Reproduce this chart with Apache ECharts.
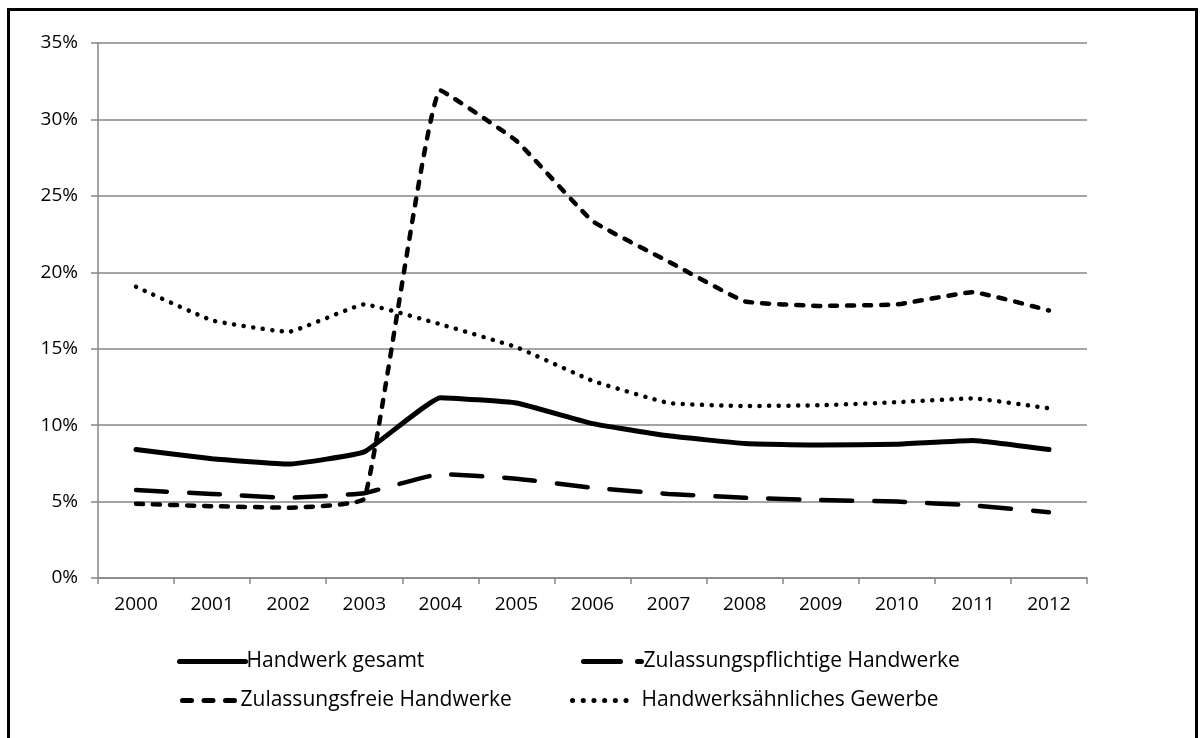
<!DOCTYPE html>
<html>
<head>
<meta charset="utf-8">
<script src="https://cdn.jsdelivr.net/npm/echarts@6/dist/echarts.min.js"></script>
<style>
  html, body { margin: 0; padding: 0; background: #fff; }
  #chart { width: 1203px; height: 738px; }
  #frame {
    position: absolute; left: 7px; top: 8px; width: 1185px; height: 740px;
    border-left: 3px solid #000; border-top: 3px solid #000; border-right: 3px solid #000;
    pointer-events: none;
  }
</style>
</head>
<body>
<div id="chart"></div>
<div id="frame"></div>
<script>
const years = ['2000', '2001', '2002', '2003', '2004', '2005', '2006', '2007', '2008', '2009', '2010', '2011', '2012'];
const gesamt = [8.4, 7.8, 7.45, 8.25, 11.8, 11.45, 10.1, 9.3, 8.8, 8.7, 8.75, 9.0, 8.4];
const pflichtig = [5.75, 5.5, 5.25, 5.55, 6.8, 6.5, 5.9, 5.5, 5.25, 5.1, 5.0, 4.75, 4.3];
const frei = [4.85, 4.7, 4.6, 5.2, 31.9, 28.6, 23.35, 20.7, 18.1, 17.8, 17.9, 18.7, 17.5];
const aehnlich = [19.05, 16.85, 16.1, 17.9, 16.6, 15.1, 12.9, 11.45, 11.25, 11.3, 11.5, 11.75, 11.1];

const font = '"Open Sans", sans-serif';
const gray = '#868686';

function legendAt(name, left, top, width, pad, dash) {
  return {
    data: [name],
    left: left,
    top: top,
    itemWidth: width,
    itemHeight: 14,
    itemGap: 0,
    selectedMode: false,
    itemStyle: { opacity: 0 },
    lineStyle: { width: 5, type: dash, cap: 'round' },
    textStyle: { fontFamily: font, fontSize: 21, color: '#000', padding: [0, 0, 0, pad] }
  };
}

const myChart = echarts.init(document.getElementById('chart'));
const option = {
  animation: false,
  grid: { left: 98, right: 116, top: 43, bottom: 160 },
  legend: [
    legendAt('Handwerk gesamt', 172, 646, 66, -4, 'solid'),
    legendAt('Zulassungspflichtige Handwerke', 576, 646, 58, -3, [37, 17]),
    legendAt('Zulassungsfreie Handwerke', 175, 685, 52, 1, [9, 12.5]),
    legendAt('Handwerksähnliches Gewerbe', 565, 685, 64, 0, [0.1, 10.6])
  ],
  xAxis: {
    type: 'category',
    data: years,
    boundaryGap: true,
    axisLine: { lineStyle: { color: gray, width: 1.5 } },
    axisTick: { show: true, length: 6, lineStyle: { color: gray, width: 1.5 } },
    axisLabel: { color: '#000', fontFamily: font, fontSize: 19, margin: 17 }
  },
  yAxis: {
    type: 'value',
    min: 0,
    max: 35,
    interval: 5,
    axisLine: { show: true, lineStyle: { color: gray, width: 1.5 } },
    axisTick: { show: true, length: 7, lineStyle: { color: gray, width: 1.5 } },
    axisLabel: { color: '#000', fontFamily: font, fontSize: 19, margin: 20, formatter: '{value}%' },
    splitLine: { lineStyle: { color: gray, width: 1.5 } }
  },
  series: [
    {
      name: 'Handwerk gesamt', type: 'line', data: gesamt, symbol: 'none', smooth: 0.1,
      itemStyle: { color: '#000' },
      lineStyle: { color: '#000', width: 5, cap: 'round', join: 'round' }
    },
    {
      name: 'Zulassungspflichtige Handwerke', type: 'line', data: pflichtig, symbol: 'none', smooth: 0.1,
      itemStyle: { color: '#000' },
      lineStyle: { color: '#000', width: 4.5, type: [31, 22], cap: 'round' }
    },
    {
      name: 'Zulassungsfreie Handwerke', type: 'line', data: frei, symbol: 'none', smooth: 0.1,
      itemStyle: { color: '#000' },
      lineStyle: { color: '#000', width: 4.5, type: [7, 10], cap: 'round' }
    },
    {
      name: 'Handwerksähnliches Gewerbe', type: 'line', data: aehnlich, symbol: 'none', smooth: 0.1,
      itemStyle: { color: '#000' },
      lineStyle: { color: '#000', width: 4.5, type: [0.1, 9.5], cap: 'round' }
    }
  ]
};
myChart.setOption(option);
</script>
</body>
</html>
